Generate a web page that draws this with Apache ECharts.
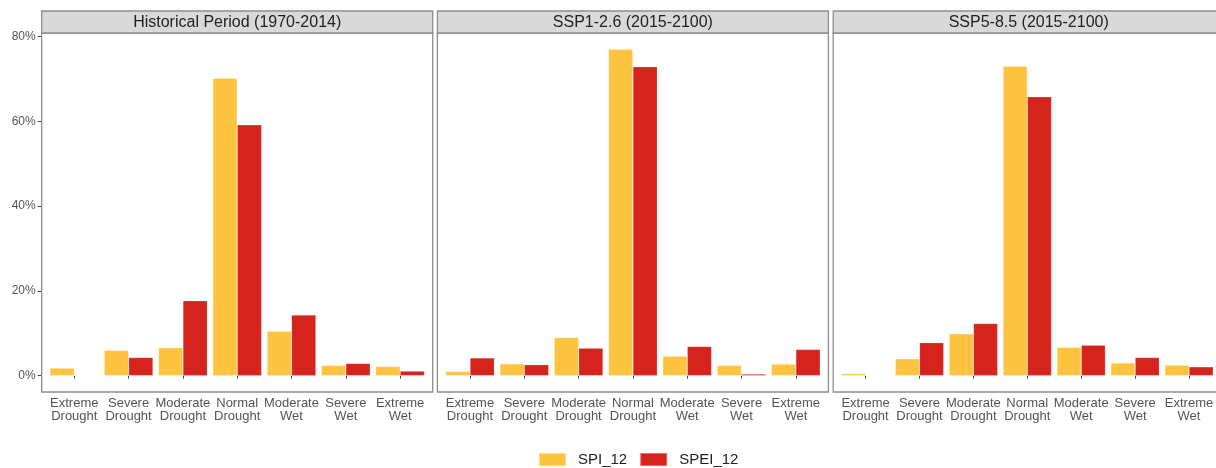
<!DOCTYPE html>
<html><head><meta charset="utf-8">
<script src="https://cdn.jsdelivr.net/npm/echarts@6/dist/echarts.min.js"></script>
<style>html,body{margin:0;padding:0;background:#fff}#c{width:1216px;height:468px}</style>
</head><body><div id="c"></div>
<script>
const categories = ['Extreme\nDrought','Severe\nDrought','Moderate\nDrought','Normal\nDrought','Moderate\nWet','Severe\nWet','Extreme\nWet'];
const panelTitles = ['Historical Period (1970-2014)','SSP1-2.6 (2015-2100)','SSP5-8.5 (2015-2100)'];
const seriesNames = ['SPI_12','SPEI_12'];
const spi12_hist   = [1.8, 6.0, 6.6, 70.2, 10.5, 2.45, 2.2];
const spei12_hist  = [0, 4.3, 17.7, 59.2, 14.3, 2.9, 1.1];
const spi12_ssp126  = [1.0, 2.8, 9.0, 77.0, 4.6, 2.45, 2.75];
const spei12_ssp126 = [4.2, 2.6, 6.5, 72.9, 6.9, 0.4, 6.2];
const spi12_ssp585  = [0.5, 4.0, 9.9, 73.0, 6.7, 3.0, 2.5];
const spei12_ssp585 = [0, 7.8, 12.3, 65.8, 7.2, 4.3, 2.1];
const yTicks = [0, 20, 40, 60, 80];

const panelData = [[spi12_hist, spei12_hist],[spi12_ssp126, spei12_ssp126],[spi12_ssp585, spei12_ssp585]];
const colors = ['#FEC440', '#D7231E'];

// layout
const panelLeft = [41.7, 437.4, 833.2];
const panelW = 391, panelTop = 33, panelBottom = 392, stripTop = 11;
const step = panelW / 7.2;
const inner = step * 0.6 - step / 2;
const border = '#8f8f8f';
const dataMax = 77.0;
const yMin = -0.05 * dataMax, yMax = dataMax * 1.05;

const grids = [], xAxes = [], yAxes = [], series = [], graphics = [];
panelLeft.forEach((pl, i) => {
  grids.push({left: pl + inner, width: step * 7, top: panelTop, height: panelBottom - panelTop, containLabel: false});
  xAxes.push({type: 'category', gridIndex: i, data: categories,
    axisLine: {show: false},
    axisTick: {show: true, alignWithLabel: true, length: 3, lineStyle: {color: '#444'}},
    axisLabel: {color: '#555', fontSize: 13, fontFamily: 'Liberation Sans, Arial, sans-serif', lineHeight: 13, margin: 5, interval: 0}
  });
  yAxes.push({type: 'value', gridIndex: i, min: yMin, max: yMax, offset: inner,
    splitLine: {show: false}, axisLine: {show: false},
    axisTick: {show: i === 0, length: 4, customValues: yTicks, lineStyle: {color: '#444'}},
    axisLabel: {show: i === 0, customValues: yTicks, formatter: v => v + '%', color: '#555', fontSize: 12, fontFamily: 'Liberation Sans, Arial, sans-serif', margin: 6}
  });
  panelData[i].forEach((arr, s) => {
    series.push({type: 'bar', name: seriesNames[s], xAxisIndex: i, yAxisIndex: i, data: arr,
      barGap: '0%', barCategoryGap: '10%', itemStyle: {color: colors[s], borderColor: 'rgba(255,255,255,0.35)', borderWidth: 0.6},
      emphasis: {disabled: true}, z: 2});
  });
  graphics.push({type: 'rect', shape: {x: pl, y: panelTop, width: panelW, height: panelBottom - panelTop},
    style: {fill: 'none', stroke: border, lineWidth: 1.3}, z: 10});
  graphics.push({type: 'rect', shape: {x: pl, y: stripTop, width: panelW, height: panelTop - stripTop},
    style: {fill: '#d9d9d9', stroke: border, lineWidth: 1.3}, z: 10});
  graphics.push({type: 'text', x: pl + panelW / 2, y: (stripTop + panelTop) / 2 + 0.5,
    style: {text: panelTitles[i], fill: '#222', fontSize: 16, fontFamily: 'Liberation Sans, Arial, sans-serif', align: 'center', verticalAlign: 'middle'}, z: 11});
});

const chart = echarts.init(document.getElementById('c'), null, {renderer: 'canvas'});
chart.setOption({
  animation: false,
  grid: grids, xAxis: xAxes, yAxis: yAxes, series: series,
  legend: {data: seriesNames, left: 533, top: 452, itemWidth: 27, itemHeight: 13, itemGap: 12, icon: 'rect', padding: [0, 5, 0, 5],
    textStyle: {fontSize: 15, color: '#222', fontFamily: 'Liberation Sans, Arial, sans-serif', padding: [0, 0, 0, 7]}},
  graphic: graphics
});
</script></body></html>
